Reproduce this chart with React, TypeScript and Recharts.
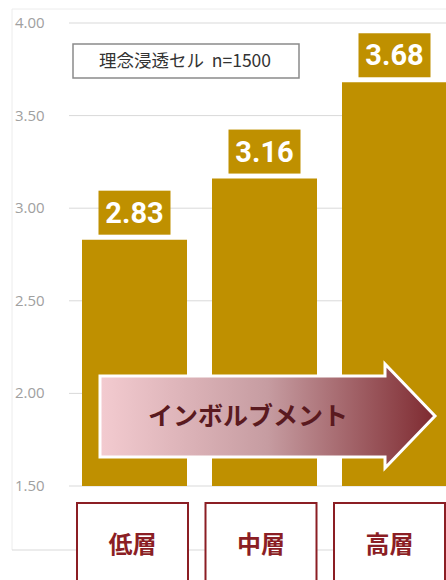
import React from "react";
import { BarChart, Bar, XAxis, YAxis, CartesianGrid, LabelList } from "recharts";

// インボルブメント別の理念浸透スコア
const categories = ["低層", "中層", "高層"];
const scores = [2.83, 3.16, 3.68];
const yTicks = [1.5, 2, 2.5, 3, 3.5, 4];
const legendText = "理念浸透セル  n=1500";
const arrowText = "インボルブメント";

const data = categories.map((name, i) => ({ name, score: scores[i] }));

const GOLD = "#bf9000";
const WINE = "#8b1e24";

const YTick = (props: any) => {
  const { y, payload } = props;
  return (
    <text
      x={15}
      y={y}
      dy={5}
      textAnchor="start"
      fontFamily="'Open Sans', sans-serif"
      fontSize={15}
      fill="#a0a0a0"
    >
      {Number(payload.value).toFixed(2)}
    </text>
  );
};

const XTick = (props: any) => {
  const { x, y, payload, index } = props;
  // boxes sit a touch left of the bars, a bit more for each one
  const cx = x - 1.5 - 1.5 * (index ?? 0);
  return (
    <g>
      <rect
        x={cx - 55.5}
        y={y + 17}
        width={111}
        height={100}
        fill="#fff"
        stroke={WINE}
        strokeWidth={2}
      />
      <text
        x={cx}
        y={y + 59}
        dy={8}
        textAnchor="middle"
        fontFamily="'Noto Sans CJK JP', sans-serif"
        fontWeight={700}
        fontSize={24}
        fill={WINE}
      >
        {payload.value}
      </text>
    </g>
  );
};

const ValueLabel = (props: any) => {
  const { x, y, width, value } = props;
  const cx = x + width / 2;
  return (
    <g>
      <rect x={cx - 36} y={y - 49} width={72} height={44} fill={GOLD} />
      <text
        x={cx}
        y={y - 27}
        dy={10}
        textAnchor="middle"
        fontFamily="Roboto, sans-serif"
        fontWeight={700}
        fontSize={29}
        fill="#fff"
      >
        {Number(value).toFixed(2)}
      </text>
    </g>
  );
};

const App = () => {
  return (
    <div
      style={{
        position: "fixed",
        left: 0,
        top: 0,
        width: 446,
        height: 580,
        overflow: "hidden",
        background: "#fff",
      }}
    >
      {/* faint frame behind the chart */}
      <svg width={446} height={580} style={{ position: "absolute", left: 0, top: 0 }}>
        <line x1={12} y1={9} x2={446} y2={9} stroke="#ececec" />
        <line x1={12} y1={9} x2={12} y2={550} stroke="#ececec" />
        <line x1={12} y1={550} x2={446} y2={550} stroke="#d9d9d9" />
      </svg>

      <div style={{ position: "absolute", left: 0, top: 0 }}>
        <BarChart
          width={460}
          height={580}
          data={data}
          margin={{ top: 23, right: 1, bottom: 0, left: 12 }}
          barSize={105}
        >
          <CartesianGrid vertical={false} stroke="#d9d9d9" />
          <YAxis
            domain={[1.5, 4]}
            ticks={yTicks}
            width={57}
            axisLine={false}
            tickLine={false}
            tick={<YTick />}
          />
          <XAxis
            dataKey="name"
            height={94}
            axisLine={false}
            tickLine={false}
            tickSize={0}
            tickMargin={0}
            tick={<XTick />}
            interval={0}
          />
          <Bar dataKey="score" fill={GOLD} isAnimationActive={false}>
            <LabelList dataKey="score" content={<ValueLabel />} />
          </Bar>
        </BarChart>
      </div>

      {/* legend box and arrow drawn on top */}
      <svg
        width={446}
        height={580}
        style={{ position: "absolute", left: 0, top: 0, pointerEvents: "none" }}
      >
        <defs>
          <linearGradient id="arrowFill" x1="0" y1="0" x2="1" y2="0">
            <stop offset="0%" stopColor="#f3cbd0" />
            <stop offset="50%" stopColor="#c69ca1" />
            <stop offset="100%" stopColor="#7e2a30" />
          </linearGradient>
        </defs>
        <rect x={73} y={44} width={226} height={34} fill="#fff" stroke="#8a8a8a" strokeWidth={1.5} />
        <text
          x={185}
          y={61}
          dy={6}
          textAnchor="middle"
          fontFamily="'Noto Sans CJK JP', sans-serif"
          fontSize={17.5}
          fill="#333"
          style={{ whiteSpace: "pre" }}
        >
          {legendText}
        </text>
        <polygon
          points="100,376 385,376 385,364 435,416 385,468 385,457 100,457"
          fill="url(#arrowFill)"
          stroke="#fff"
          strokeWidth={3}
          strokeLinejoin="miter"
        />
        <text
          x={248}
          y={416}
          dy={9}
          textAnchor="middle"
          fontFamily="'Noto Sans CJK JP', sans-serif"
          fontWeight={700}
          fontSize={25}
          fill="#5a1a1f"
        >
          {arrowText}
        </text>
      </svg>
    </div>
  );
};

export default App;
